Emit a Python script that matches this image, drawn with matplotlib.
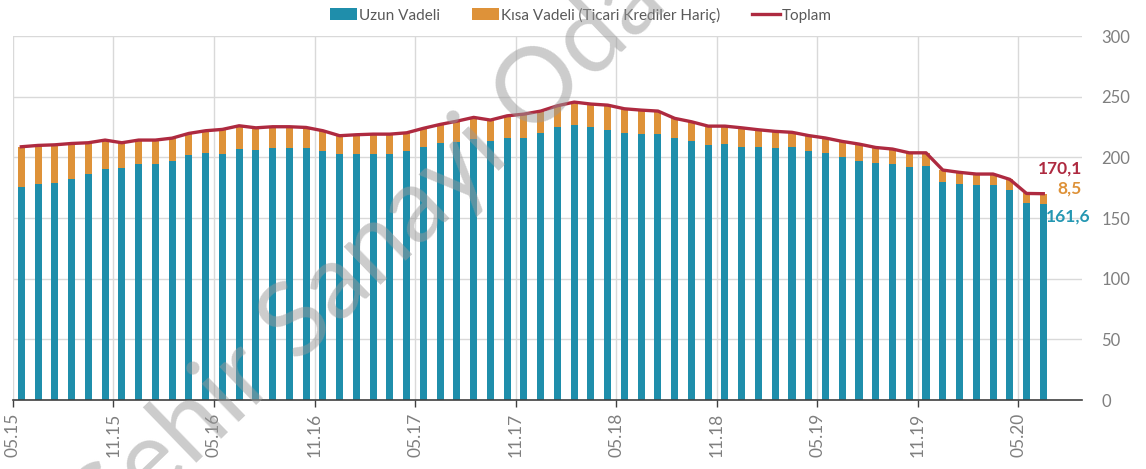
import numpy as np
import matplotlib.pyplot as plt

# aylik seriler, 05.15 - 06.20 (milyar $)
uzun = [175.3, 177.8, 178.6, 182.4, 186.5, 190.1, 191.0, 194.2, 194.2, 197.3,
        201.9, 203.3, 202.7, 206.6, 205.8, 207.4, 207.4, 207.4, 205.0, 202.7,
        202.7, 202.7, 202.7, 205.0, 209.0, 211.5, 212.9, 215.4, 213.7, 216.2,
        216.2, 220.1, 224.7, 226.4, 224.7, 222.5, 220.1, 219.5, 219.5, 216.2,
        213.2, 210.2, 211.0, 208.5, 208.5, 207.8, 208.5, 205.2, 203.5, 200.2,
        197.3, 195.6, 194.8, 192.3, 193.1, 179.9, 178.0, 177.2, 177.2, 173.1,
        162.3, 161.6]
kisa = [33.5, 32.1, 31.8, 29.1, 25.6, 24.2, 21.1, 20.1, 20.1, 18.6,
        17.9, 18.7, 20.4, 19.5, 18.6, 17.9, 17.9, 17.3, 17.0, 15.2,
        16.0, 16.5, 16.5, 15.3, 15.0, 15.7, 17.0, 17.6, 17.1, 18.1,
        19.5, 18.1, 17.9, 19.2, 19.3, 20.6, 20.0, 19.5, 18.7, 16.0,
        16.2, 15.6, 14.8, 15.9, 14.3, 13.7, 12.2, 12.8, 12.5, 13.0,
        13.7, 12.6, 12.1, 11.5, 10.7, 9.7, 9.7, 9.1, 9.1, 8.8,
        8.0, 8.5]
tick_labels = ['05.15', '11.15', '05.16', '11.16', '05.17', '11.17',
               '05.18', '11.18', '05.19', '11.19', '05.20']
last_labels = ['170,1', '8,5', '161,6']

BLUE = '#1F8EAB'
ORANGE = '#DE9239'
RED = '#AE2A40'
GRAY = '#7F7F7F'

uzun = np.array(uzun)
kisa = np.array(kisa)
toplam = uzun + kisa
x = np.arange(len(uzun))

plt.rcParams['font.family'] = ['Lato', 'DejaVu Sans']

fig = plt.figure(figsize=(11.46, 4.69), dpi=100)
ax = fig.add_axes([0.0113, 0.147, 0.9327, 0.776])

b1 = ax.bar(x, uzun, width=0.42, color=BLUE, label='Uzun Vadeli', zorder=2)
b2 = ax.bar(x, kisa, width=0.42, bottom=uzun, color=ORANGE,
            label='Kısa Vadeli (Ticari Krediler Hariç)', zorder=2)
l1, = ax.plot(x, toplam, color=RED, lw=2.4, label='Toplam', zorder=3,
              solid_joinstyle='round')

ax.set_xlim(-0.5, 63.3)
ax.set_ylim(0, 300)
ticks = np.arange(0, len(uzun), 6)[:len(tick_labels)] - 0.5
ax.set_xticks(ticks)
ax.set_xticklabels(tick_labels, rotation=90, color=GRAY, fontsize=12.5)
ax.set_yticks(range(0, 301, 50))
ax.yaxis.tick_right()
ax.tick_params(axis='y', length=0, pad=14, labelcolor=GRAY, labelsize=12)
ax.tick_params(axis='x', length=5, width=1, color='#404040', pad=4)
for lbl in ax.get_yticklabels():
    lbl.set_horizontalalignment('left')

ax.grid(True, color='#D9D9D9', lw=1, zorder=0)
ax.set_axisbelow(True)
for s in ['top', 'right', 'left']:
    ax.spines[s].set_visible(False)
ax.spines['bottom'].set_color('#404040')
ax.spines['bottom'].set_linewidth(1.2)

# son deger etiketleri
ax.text(63.3, 191, last_labels[0], color=RED, fontsize=12.5,
        fontweight='bold', ha='right', va='center')
ax.text(63.3, 174, last_labels[1], color=ORANGE, fontsize=12.5,
        fontweight='bold', ha='right', va='center')
ax.text(63.8, 151, last_labels[2], color='#2497B2', fontsize=12.5,
        fontweight='bold', ha='right', va='center')

ax.legend([b1, b2, l1], [b1.get_label(), b2.get_label(), l1.get_label()],
          loc='center', bbox_to_anchor=(0.531, 1.058), ncol=3,
          frameon=False, fontsize=11, handlelength=1.8, handleheight=0.85,
          handletextpad=0.1, columnspacing=2.1, labelcolor='#595959')

# filigran
fig.text(0.345, 0.51, 'Şehir Sanayi Odası', fontsize=75, color='#9A9A9A',
         alpha=0.5, rotation=44, ha='center', va='center', zorder=10)

fig.savefig('out.png', dpi=100)
